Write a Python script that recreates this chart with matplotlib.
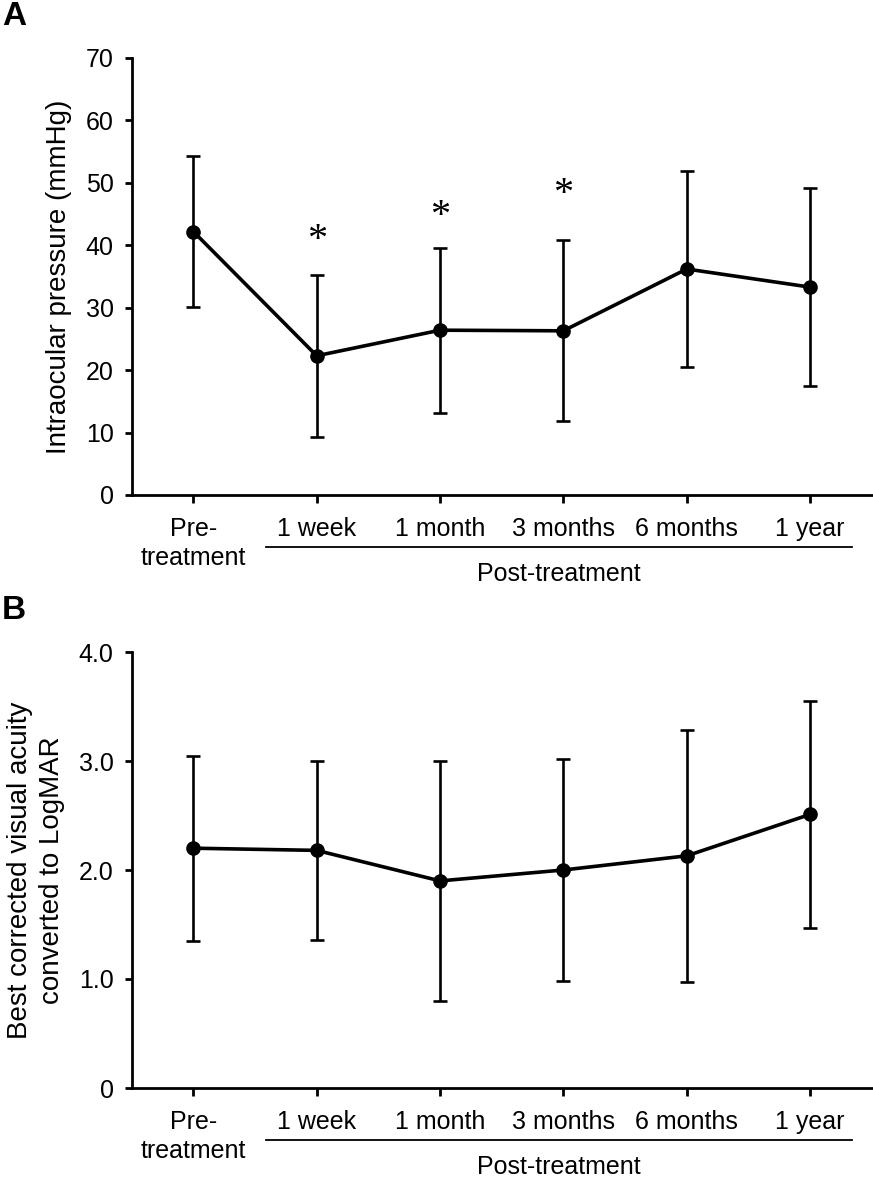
import matplotlib
matplotlib.use("Agg")
import matplotlib.pyplot as plt

plt.rcParams["font.family"] = ["Liberation Sans", "DejaVu Sans"]

# data (mean +/- SD)
timepoints = ["Pre-\ntreatment", "1 week", "1 month", "3 months", "6 months", "1 year"]
iop_mean = [42.2, 22.3, 26.4, 26.3, 36.2, 33.3]
iop_sd = [12.1, 13.0, 13.2, 14.5, 15.7, 15.9]
bcva_mean = [2.20, 2.18, 1.90, 2.00, 2.13, 2.51]
bcva_sd = [0.85, 0.82, 1.10, 1.02, 1.155, 1.04]
star_idx = [1, 2, 3]
star_y = [41.6, 45.4, 48.9]

x = list(range(len(timepoints)))
W, H = 873, 1179
fig = plt.figure(figsize=(W / 100, H / 100), dpi=100)

def px_axes(left, right, top, bottom):
    return fig.add_axes([left / W, 1 - bottom / H, (right - left) / W, (bottom - top) / H])

def style(ax, means, sds, yticks, yticklabels, ylabel):
    ax.errorbar(x, means, yerr=sds, color="black", lw=2.6, marker="o", ms=9.5,
                ecolor="black", elinewidth=1.9, capsize=4.8, capthick=1.9, zorder=3)
    ax.set_xlim(-0.5, 5.5)
    for s in ["top", "right"]:
        ax.spines[s].set_visible(False)
    for s in ["left", "bottom"]:
        ax.spines[s].set_linewidth(2.0)
    ax.set_yticks(yticks)
    ax.set_yticklabels(yticklabels)
    ax.set_xticks(x)
    ax.set_xticklabels(timepoints, linespacing=1.3)
    ax.tick_params(axis="y", length=5, width=2.0, pad=8, labelsize=18)
    ax.tick_params(axis="x", length=5.5, width=2.0, pad=10, labelsize=18)
    ax.set_ylabel(ylabel, fontsize=20, labelpad=10, linespacing=1.3)
    # post-treatment bracket
    ax.plot([0.585, 5.337], [-0.119, -0.119], color="black", lw=1.3,
            transform=ax.get_xaxis_transform(), clip_on=False)
    ax.text(2.96, -0.181, "Post-treatment", transform=ax.get_xaxis_transform(),
            ha="center", va="center", fontsize=18)

# ── PANEL A ──────────────────────────────────────────────
axA = px_axes(131.7, 871.7, 58, 495)
axA.set_ylim(0, 70)
style(axA, iop_mean, iop_sd, range(0, 71, 10), [str(v) for v in range(0, 71, 10)],
      "Intraocular pressure (mmHg)")
for i, yv in zip(star_idx, star_y):
    axA.text(x[i], yv - 0.8, "*", ha="center", va="center", fontsize=29,
             family="Liberation Serif")

# ── PANEL B ──────────────────────────────────────────────
axB = px_axes(131.7, 871.7, 652, 1088)
axB.set_ylim(0, 4)
style(axB, bcva_mean, bcva_sd, [0, 1, 2, 3, 4], ["0", "1.0", "2.0", "3.0", "4.0"],
      "Best corrected visual acuity\nconverted to LogMAR")

fig.text(2 / W, 1 - 1 / H, "A", fontsize=24, fontweight="bold", va="top", ha="left")
fig.text(2 / W, 1 - 595 / H, "B", fontsize=24, fontweight="bold", va="top", ha="left")

plt.savefig("out.png", dpi=100)
print("Saved out.png")
